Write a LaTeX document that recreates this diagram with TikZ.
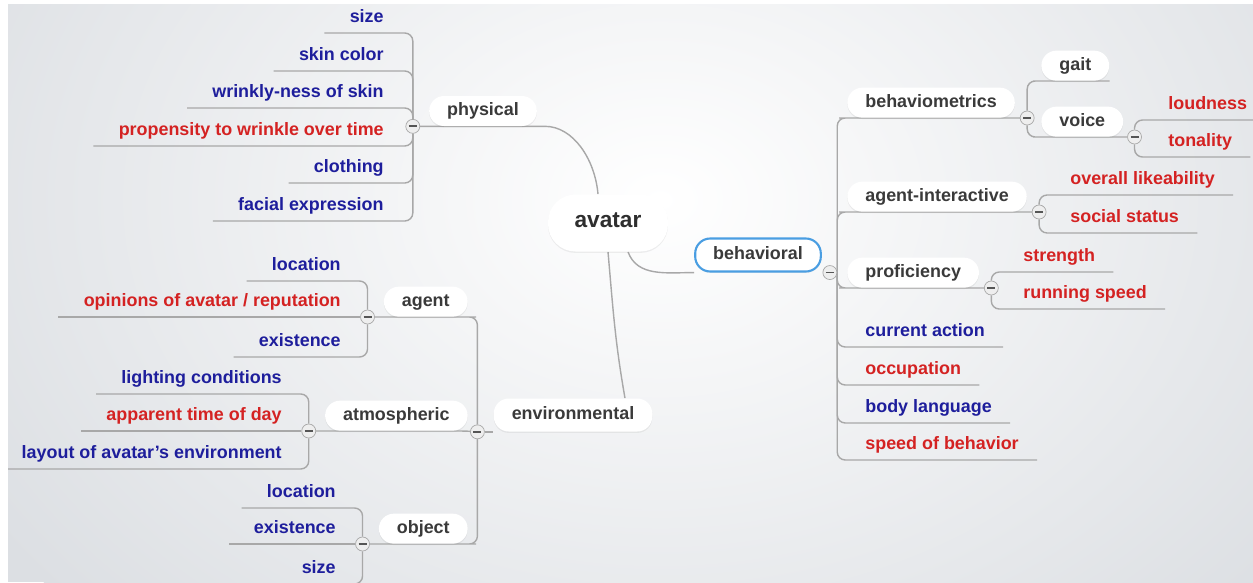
\documentclass[tikz,border=0pt]{standalone}
\usepackage{fontspec}
\setmainfont{Liberation Sans}
\usetikzlibrary{shadows,calc}
\pgfdeclarelayer{background}
\pgfsetlayers{background,main}

\definecolor{bgcol}{HTML}{DCDFE3}
\definecolor{linecol}{HTML}{A8A8A8}
\definecolor{topiccol}{HTML}{3A3A3A}
\definecolor{leafblue}{HTML}{1E1E9C}
\definecolor{leafred}{HTML}{D42222}
\definecolor{selcol}{HTML}{4A9EE2}
\definecolor{minuscol}{HTML}{555555}
\definecolor{minusfill}{HTML}{EEEEEE}

\newcommand\mapfont{\fontsize{10.2}{12}\selectfont\bfseries}
\newcommand\rootfont{\fontsize{12.9}{15}\selectfont\bfseries}

\tikzset{
  topic/.style={rectangle, rounded corners=0.3cm, fill=white, text=topiccol, font=\mapfont,
    minimum height=0.6cm, inner xsep=0.36cm, inner ysep=0pt, text height=0.72em, text depth=0.22em,
    drop shadow={opacity=0.12, shadow xshift=0pt, shadow yshift=-0.8pt}},
  leaf/.style={font=\mapfont, inner xsep=0pt, inner ysep=0.13cm, text height=0.72em, text depth=0.22em},
  branch/.style={draw=linecol, line width=0.8pt, rounded corners=0.16cm},
  collapse/.style={circle, draw=linecol, fill=minusfill, minimum size=0.28cm, inner sep=0pt,
    path picture={\draw[minuscol, line width=1pt]
      ([xshift=-0.08cm]path picture bounding box.center) -- ([xshift=0.08cm]path picture bounding box.center);}}
}

\begin{document}
\begin{tikzpicture}[x=0.02cm, y=-0.02cm]
  \useasboundingbox (0,0) rectangle (1253,582);
  \begin{pgfonlayer}{background}
    \fill[white] (0,0) rectangle (1253,582);
    \begin{scope}
      \clip (8,4) rectangle (1253,582);
      \fill[bgcol] (8,4) rectangle (1253,582);
      \shade[inner color=white, outer color=bgcol] (660,200) ellipse [x radius=16cm, y radius=12cm];
    \end{scope}
  \end{pgfonlayer}

  % main topics
  \node[topic, font=\rootfont, text=topiccol!80!black, minimum width=2.4cm, minimum height=1.14cm, rounded corners=0.55cm] (avatar) at (608,223) {avatar};
  \node[topic] (physical) at (483,111) {physical};
  \node[topic, draw=selcol, line width=1.2pt, minimum height=0.66cm] (behavioral) at (758,255) {behavioral};
  \node[topic, minimum height=0.66cm] (environmental) at (573,415) {environmental};

  % subtopics
  \node[topic, anchor=south west] (behaviometrics) at (847,118) {behaviometrics};
  \node[topic, anchor=south west] (gait) at (1041,81) {gait};
  \node[topic, anchor=south west] (voice) at (1041,137) {voice};
  \node[topic, anchor=south west] (agentint) at (847,212) {agent-interactive};
  \node[topic, anchor=south west] (proficiency) at (847,288) {proficiency};
  \node[topic, anchor=south east] (agent) at (468,317) {agent};
  \node[topic, anchor=south east] (atmospheric) at (468,431) {atmospheric};
  \node[topic, anchor=south east] (object) at (468,544) {object};

  % collapse buttons
  \node[collapse] (physical-c) at ([xshift=-0.32cm]physical.south west) {};
  \node[collapse] (behavioral-c) at ([xshift=0.16cm]behavioral.south east) {};
  \node[collapse] (environmental-c) at ([xshift=-0.32cm]environmental.south west) {};
  \node[collapse] (behaviometrics-c) at ([xshift=0.24cm]behaviometrics.south east) {};
  \node[collapse] (voice-c) at ([xshift=0.22cm]voice.south east) {};
  \node[collapse] (agentint-c) at ([xshift=0.24cm]agentint.south east) {};
  \node[collapse] (proficiency-c) at ([xshift=0.24cm]proficiency.south east) {};
  \node[collapse] (agent-c) at ([xshift=-0.32cm]agent.south west) {};
  \node[collapse] (atmospheric-c) at ([xshift=-0.32cm]atmospheric.south west) {};
  \node[collapse] (object-c) at ([xshift=-0.32cm]object.south west) {};

  % leaves, left side
  \foreach \txt/\col/\yy [count=\i] in {size/leafblue/33, skin color/leafblue/71, wrinkly-ness of skin/leafblue/108,
      propensity to wrinkle over time/leafred/146, clothing/leafblue/183, facial expression/leafblue/221}
    \node[leaf, text=\col, anchor=south east] (phys-\i) at (384,\yy) {\txt};
  \foreach \txt/\col/\yy [count=\i] in {location/leafblue/281, {opinions of avatar / reputation}/leafred/317, existence/leafblue/357}
    \node[leaf, text=\col, anchor=south east] (agent-\i) at (341,\yy) {\txt};
  \foreach \txt/\col/\yy [count=\i] in {lighting conditions/leafblue/394, apparent time of day/leafred/431, layout of avatar's environment/leafblue/469}
    \node[leaf, text=\col, anchor=south east] (atmo-\i) at (282,\yy) {\txt};
  \foreach \txt/\col/\yy [count=\i] in {location/leafblue/508, existence/leafblue/544, size/leafblue/584}
    \node[leaf, text=\col, anchor=south east] (obj-\i) at (336,\yy) {\txt};

  % leaves, right side
  \foreach \txt/\col/\yy [count=\i] in {current action/leafblue/347, occupation/leafred/385, body language/leafblue/423, speed of behavior/leafred/460}
    \node[leaf, text=\col, anchor=south west] (beh-\i) at (865,\yy) {\txt};
  \foreach \txt/\col/\yy [count=\i] in {loudness/leafred/120, tonality/leafred/157}
    \node[leaf, text=\col, anchor=south west] (voice-\i) at (1168,\yy) {\txt};
  \foreach \txt/\col/\yy [count=\i] in {overall likeability/leafred/195, social status/leafred/233}
    \node[leaf, text=\col, anchor=south west] (agentint-\i) at (1070,\yy) {\txt};
  \foreach \txt/\col/\yy [count=\i] in {strength/leafred/272, running speed/leafred/309}
    \node[leaf, text=\col, anchor=south west] (prof-\i) at (1023,\yy) {\txt};

  % connectors
  \begin{pgfonlayer}{background}
   \begin{scope}
    \clip (8,4) rectangle (1253,582);
    \draw[branch] (physical-c) -- (physical.south east) to[out=0, in=95] ([xshift=-0.2cm]avatar.north);
    \draw[branch] ([xshift=0.4cm]avatar.south) to[out=-70, in=180] (behavioral.south west);
    \draw[branch] (avatar.south) to[out=-85, in=100] ([xshift=1.04cm]environmental.north);
    \draw[branch] (environmental-c) -- (environmental.south west);

    \draw[branch] (environmental-c) |- (agent.south east) -- (agent-c);
    \draw[branch] (environmental-c) -- (atmospheric.south east) -- (atmospheric-c);
    \draw[branch] (environmental-c) |- (object.south east) -- (object-c);

    \draw[branch] (behavioral-c.east) |- (behaviometrics.south west) -- (behaviometrics-c);
    \draw[branch] (behavioral-c.east) |- (agentint.south west) -- (agentint-c);
    \draw[branch] (behavioral-c.east) |- (proficiency.south west) -- (proficiency-c);
    \draw[branch] (behaviometrics-c) |- (gait.south west) -- (gait.south east);
    \draw[branch] (behaviometrics-c) |- (voice.south west) -- (voice-c);

    \foreach \i in {1,...,6}
      \draw[branch] (physical-c) |- ([xshift=-0.5cm]phys-\i.south west);
    \foreach \i in {1,3} {
      \draw[branch] (agent-c) |- ([xshift=-0.5cm]agent-\i.south west);
      \draw[branch] (atmospheric-c) |- ([xshift=-0.5cm]atmo-\i.south west);
      \draw[branch] (object-c) |- ([xshift=-0.5cm]obj-\i.south west);
    }
    \draw[branch] (agent-c) -- ([xshift=-0.5cm]agent-2.south west);
    \draw[branch] (atmospheric-c) -- ([xshift=-0.5cm]atmo-2.south west);
    \draw[branch] (object-c) -- ([xshift=-0.5cm]obj-2.south west);

    \foreach \i in {1,...,4}
      \draw[branch] (behavioral-c.east) |- ([xshift=0.36cm]beh-\i.south east);
    \foreach \i in {1,2} {
      \draw[branch] (voice-c) |- ([xshift=0.36cm]voice-\i.south east);
      \draw[branch] (agentint-c) |- ([xshift=0.36cm]agentint-\i.south east);
      \draw[branch] (proficiency-c) |- ([xshift=0.36cm]prof-\i.south east);
    }
   \end{scope}
  \end{pgfonlayer}
\end{tikzpicture}
\end{document}
